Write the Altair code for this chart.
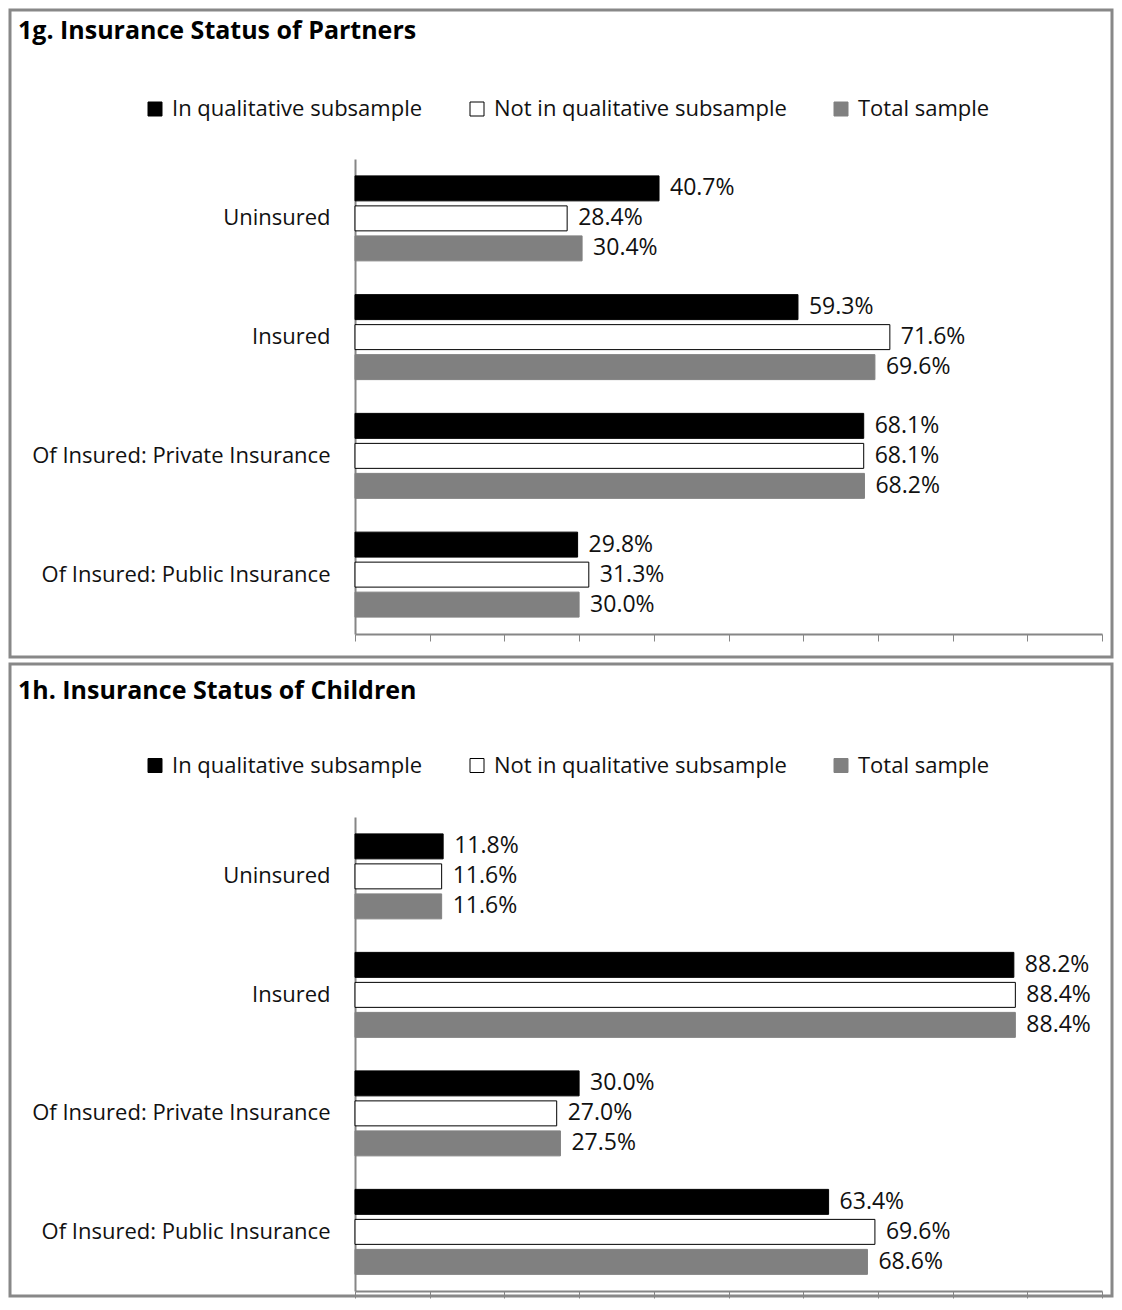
import altair as alt
import pandas as pd

categories = ["Uninsured", "Insured", "Of Insured: Private Insurance", "Of Insured: Public Insurance"]
series = ["In qualitative subsample", "Not in qualitative subsample", "Total sample"]
fills = ["#000000", "#ffffff", "#808080"]
strokes = ["#000000", "#000000", "#808080"]

partners_in = [40.7, 59.3, 68.1, 29.8]
partners_not = [28.4, 71.6, 68.1, 31.3]
partners_total = [30.4, 69.6, 68.2, 30.0]

children_in = [11.8, 88.2, 30.0, 63.4]
children_not = [11.6, 88.4, 27.0, 69.6]
children_total = [11.6, 88.4, 27.5, 68.6]

FONT = "Open Sans"
W = 1102


def panel(title, vals_in, vals_not, vals_tot, y_range, height, title_y, legend_y):
    rows = []
    for s, vals in zip(series, [vals_in, vals_not, vals_tot]):
        for c, v in zip(categories, vals):
            rows.append({"category": c, "series": s, "value": v})
    df = pd.DataFrame(rows)

    legend = alt.Legend(
        title=None, orient="none", legendX=134, legendY=legend_y,
        direction="horizontal", symbolType="square", symbolSize=196,
        symbolStrokeWidth=1, labelFontSize=22, labelFont=FONT,
        labelColor="#111111", labelLimit=400, labelOffset=6, columnPadding=43,
    )
    y = alt.Y("category:N", sort=categories,
              scale=alt.Scale(range=y_range, paddingInner=0, paddingOuter=0),
              axis=alt.Axis(title=None, offset=-345, ticks=False, labelPadding=25,
                            labelFontSize=22, labelFont=FONT, labelColor="#111111",
                            labelLimit=400, domainColor="#868686", domainWidth=2,
                            grid=False))
    x = alt.X("value:Q",
              scale=alt.Scale(domain=[0, 100], range=[345, 1092]),
              axis=alt.Axis(title=None, labels=False, values=list(range(0, 101, 10)),
                            tickSize=7, tickColor="#868686", tickWidth=1,
                            domainColor="#868686", domainWidth=2, grid=False,
                            offset=-(height - y_range[1])))
    yoff = alt.YOffset("series:N", sort=series,
                       scale=alt.Scale(paddingInner=0.1667, paddingOuter=0.5625))

    base = alt.Chart(df)
    bars = base.mark_bar(strokeWidth=1).encode(
        x=x, y=y, yOffset=yoff,
        color=alt.Color("series:N", sort=series,
                        scale=alt.Scale(domain=series, range=fills), legend=legend),
        stroke=alt.Stroke("series:N", sort=series,
                          scale=alt.Scale(domain=series, range=strokes), legend=legend),
    )
    labels = base.transform_calculate(
        label="format(datum.value, '.1f') + '%'"
    ).mark_text(align="left", baseline="middle", dx=11, fontSize=23, font=FONT,
                color="#111111").encode(
        x=alt.X("value:Q"), y=alt.Y("category:N", sort=categories), yOffset=yoff,
        text="label:N",
    )
    ttl = alt.Chart(pd.DataFrame({"t": [title]})).mark_text(
        align="left", baseline="middle", fontSize=25, fontWeight="bold", font=FONT,
        color="#000000",
    ).encode(text="t:N", x=alt.value(8), y=alt.value(title_y))

    return alt.layer(bars, labels, ttl).properties(width=W, height=height)


p1 = panel("1g. Insurance Status of Partners", partners_in, partners_not, partners_total,
           [149, 624], 647, 21, 88)
p2 = panel("1h. Insurance Status of Children", children_in, children_not, children_total,
           [153, 627], 632, 26.5, 90.5)

chart = alt.vconcat(p1, p2, spacing=3).resolve_scale(
    x="independent", y="independent", color="independent", stroke="independent"
).resolve_legend(color="independent", stroke="independent").properties(
    padding=0
).configure_view(stroke="#888888", strokeWidth=3)

chart.save("out.html", embed_options={"renderer": "svg", "actions": False})
